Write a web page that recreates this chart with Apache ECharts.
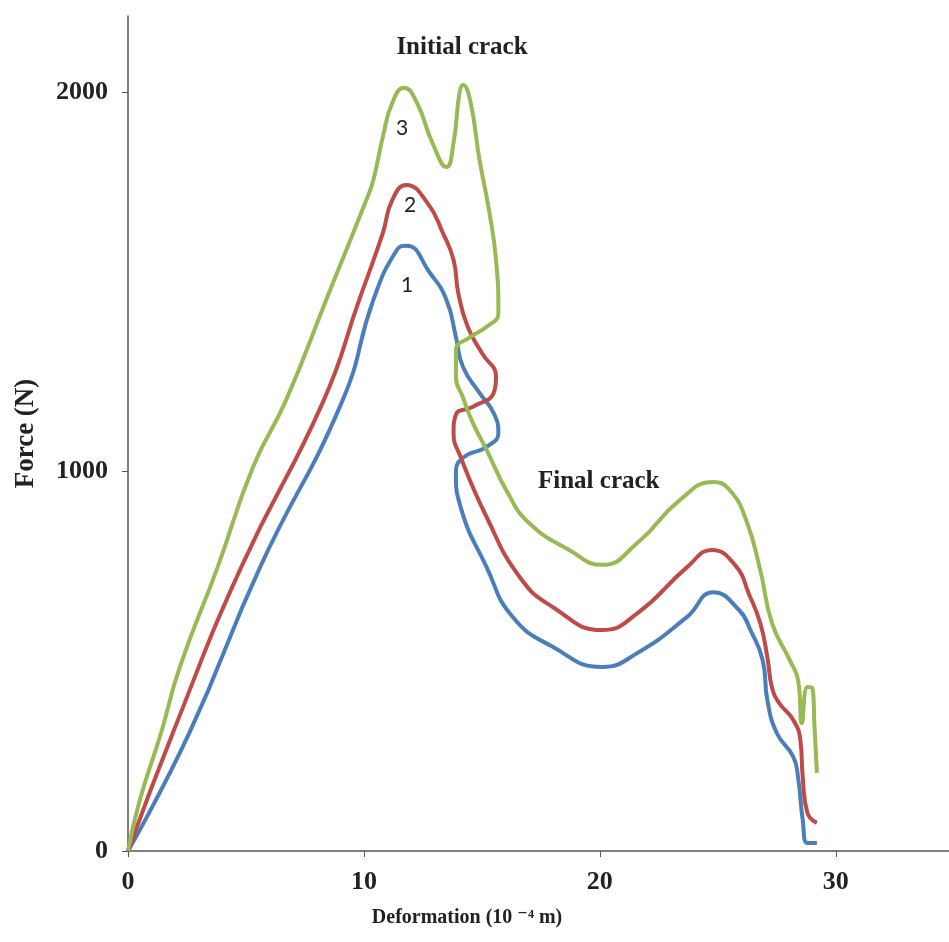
<!DOCTYPE html>
<html>
<head>
<meta charset="utf-8">
<script src="https://cdn.jsdelivr.net/npm/echarts@6/dist/echarts.min.js"></script>
<style>
  html, body { margin: 0; padding: 0; background: #fff; }
  #main { width: 949px; height: 942px; }
</style>
</head>
<body>
<div id="main"></div>
<script>
// axis ticks
const xTicks = [0, 10, 20, 30];
const yTicks = [0, 1000, 2000];

// curve 1 (blue): [deformation, force]
const curve1 = [
  [0, 0], [2.6, 311], [5.6, 748], [9.1, 1188], [10.4, 1452], [11.4, 1584], [11.8, 1595],
  [12.8, 1523], [13.5, 1452], [13.9, 1354], [14.2, 1275], [14.9, 1207], [15.5, 1154],
  [15.7, 1101], [15.2, 1065], [14.2, 1036], [13.9, 996], [14.1, 906], [15.2, 748],
  [16.3, 617], [18.0, 538], [20.1, 485], [21.6, 522], [23.7, 617], [24.8, 682],
  [25.9, 635], [26.4, 580], [26.9, 503], [27.1, 398], [27.5, 311], [28.2, 248],
  [28.4, 195], [28.6, 82], [28.8, 21], [29.2, 21]
];

// curve 2 (red)
const curve2 = [
  [0, 0], [1.9, 311], [4.8, 748], [8.3, 1188], [9.8, 1452], [10.8, 1628], [11.2, 1715],
  [11.8, 1755], [12.7, 1707], [13.35, 1628], [13.8, 1557], [14.0, 1470], [14.4, 1381],
  [15.0, 1312], [15.6, 1249], [15.5, 1207], [14.6, 1170], [13.9, 1150], [13.8, 1101],
  [14.1, 1038], [15.2, 880], [16.6, 722], [18.0, 643], [20.1, 582], [21.6, 627],
  [23.7, 748], [24.75, 793], [25.8, 748], [26.3, 680], [26.8, 600], [27.1, 511],
  [27.3, 430], [27.6, 390], [28.2, 345], [28.5, 292], [28.6, 195], [28.8, 100], [29.2, 74]
];

// curve 3 (green)
const curve3 = [
  [0, 0], [0.5, 134], [1.4, 311], [2.2, 485], [3.8, 748], [5.3, 1012], [6.7, 1188],
  [8.4, 1452], [10.1, 1715], [10.4, 1768], [10.8, 1881], [11.2, 1971], [11.7, 2011],
  [12.25, 1971], [12.9, 1866], [13.5, 1802], [13.8, 1866], [14.05, 1997], [14.2, 2018],
  [14.5, 1979], [14.9, 1821], [15.3, 1689], [15.6, 1557], [15.7, 1418], [15.2, 1381],
  [14.5, 1354], [13.9, 1320], [13.9, 1249], [14.2, 1195], [14.6, 1130], [15.2, 1057],
  [16.1, 943], [17.0, 864], [18.7, 793], [20.1, 754], [21.6, 812], [23.4, 925],
  [24.8, 972], [25.5, 951], [26.2, 872], [26.8, 740], [27.3, 600], [28.05, 503],
  [28.4, 451], [28.56, 337], [28.8, 432], [29.0, 430], [29.1, 327], [29.2, 206]
];

const colors = ['#4A7EBB', '#BE4B48', '#98B954'];
const serif = '"Liberation Serif", "DejaVu Serif", serif';

const myChart = echarts.init(document.getElementById('main'));

const axisStyle = { lineStyle: { color: '#555', width: 1.5 } };

const option = {
  animation: false,
  backgroundColor: '#fff',
  grid: { left: 128, right: 0, top: 16, bottom: 91 },
  xAxis: {
    type: 'value',
    min: 0,
    max: 34.8,
    interval: 10,
    axisLine: axisStyle,
    axisTick: { show: true, length: 6, customValues: xTicks, lineStyle: { color: '#555' } },
    axisLabel: {
      customValues: xTicks, margin: 18,
      formatter: v => String(v),
      fontFamily: serif, fontWeight: 'bold', fontSize: 26, color: '#222'
    },
    splitLine: { show: false }
  },
  yAxis: {
    type: 'value',
    min: 0,
    max: 2200,
    interval: 1000,
    name: 'Force (N)',
    nameLocation: 'middle',
    nameGap: 88,
    nameTextStyle: { fontFamily: serif, fontWeight: 'bold', fontSize: 27, color: '#222' },
    axisLine: { show: true, lineStyle: axisStyle.lineStyle },
    axisTick: { show: true, length: 6, customValues: yTicks, lineStyle: { color: '#555' } },
    axisLabel: {
      customValues: yTicks, margin: 20,
      formatter: v => String(v),
      fontFamily: serif, fontWeight: 'bold', fontSize: 26, color: '#222'
    },
    splitLine: { show: false }
  },
  series: [curve1, curve2, curve3].map((d, i) => ({
    type: 'line',
    data: d,
    smooth: 0.5,
    showSymbol: false,
    lineStyle: { color: colors[i], width: 4 },
    itemStyle: { color: colors[i] }
  })),
  graphic: [
    { type: 'text', x: 467, y: 918, style: { text: 'Deformation (10 \u207B\u2074 m)', align: 'center', verticalAlign: 'middle', font: 'bold 20px ' + serif, fill: '#222' } },
    { type: 'text', x: 462, y: 48, style: { text: 'Initial crack', align: 'center', verticalAlign: 'middle', font: 'bold 25px ' + serif, fill: '#222' } },
    { type: 'text', x: 538, y: 482, style: { text: 'Final crack', align: 'left', verticalAlign: 'middle', font: 'bold 25px ' + serif, fill: '#222' } },
    { type: 'text', x: 402, y: 128, style: { text: '3', align: 'center', verticalAlign: 'middle', font: '21px Lato, sans-serif', fill: '#222' } },
    { type: 'text', x: 410, y: 205, style: { text: '2', align: 'center', verticalAlign: 'middle', font: '21px Lato, sans-serif', fill: '#222' } },
    { type: 'text', x: 407, y: 285, style: { text: '1', align: 'center', verticalAlign: 'middle', font: '21px Lato, sans-serif', fill: '#222' } }
  ]
};

myChart.setOption(option);
</script>
</body>
</html>
